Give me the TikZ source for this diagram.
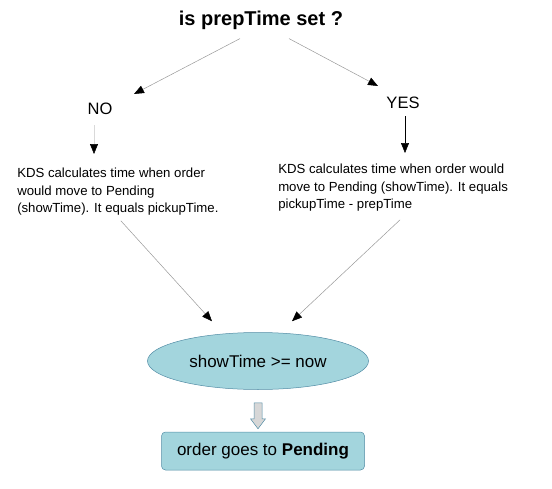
\documentclass[tikz,border=0pt]{standalone}
\usepackage{fontspec}
\setmainfont{Liberation Sans}
\usetikzlibrary{arrows.meta,shapes.geometric}
\definecolor{tealfill}{RGB}{163,213,221}
\definecolor{tealline}{RGB}{82,140,165}
\definecolor{arrowgray}{RGB}{215,215,215}

\begin{document}
\begin{tikzpicture}[x=1pt,y=-1pt,line width=0.5pt,
  arr/.style={draw=gray!80,-{Triangle[color=black,length=10pt,width=8pt]}},
  title/.style={font=\fontsize{20}{24}\selectfont\bfseries,inner sep=0pt},
  lbl/.style={font=\fontsize{16.5}{19}\selectfont,inner sep=0pt},
  txt/.style={font=\fontsize{13.2}{17.5}\selectfont,align=left,inner sep=0pt,anchor=north west},
  cond/.style={ellipse,draw=tealline,fill=tealfill,minimum width=221pt,minimum height=57pt,
    font=\fontsize{17}{20}\selectfont},
  res/.style={rectangle,rounded corners=4pt,draw=tealline,fill=tealfill,minimum width=203pt,
    minimum height=38pt,font=\fontsize{17}{20}\selectfont}]
  \useasboundingbox (0,0) rectangle (552,488);
  % question and answers
  \node[title] (q) at (261,20) {is prepTime set ?};
  \node[lbl] (no) at (100,109) {NO};
  \node[lbl] (yes) at (403,103) {YES};
  \draw[arr] ([xshift=-21pt,yshift=-9pt]q.south) -- ([xshift=34pt,yshift=15pt]no.center);
  \draw[arr] ([xshift=28pt,yshift=-9pt]q.south) -- ([xshift=-25pt,yshift=17pt]yes.center);
  % what KDS does
  \node[txt] (calcno) at (17,168) {KDS calculates time when order\\would move to Pending\\(showTime). It equals pickupTime.};
  \node[txt] (calcyes) at (278,164) {KDS calculates time when order would\\move to Pending (showTime). It equals\\pickupTime - prepTime};
  \draw[arr,draw=gray!30] ([xshift=-6pt,yshift=-16pt]no.center) -- ([xshift=77pt,yshift=14pt]calcno.north west);
  \draw[arr,draw=black] ([xshift=2pt,yshift=-13pt]yes.center) -- ([xshift=127pt,yshift=11pt]calcyes.north west);
  % check and result
  \node[cond] (cmp) at (258,361) {showTime >= now};
  \node[res] (res) at (263,451) {order goes to \textbf{Pending}};
  \draw[arr] ([xshift=3pt,yshift=-5pt]calcno.south) -- ([xshift=-46pt,yshift=11pt]cmp.north);
  \draw[arr] ([xshift=7pt,yshift=-8pt]calcyes.south) -- ([xshift=34pt,yshift=11pt]cmp.north);
  \draw[draw=tealline,fill=arrowgray] ([yshift=-13pt]cmp.south) ++(-4,0) -- ++(8,0) -- ++(0,16)
    -- ++(3.5,0) -- ++(-7.5,10) -- ++(-7.5,-10) -- ++(3.5,0) -- cycle;
\end{tikzpicture}
\end{document}
